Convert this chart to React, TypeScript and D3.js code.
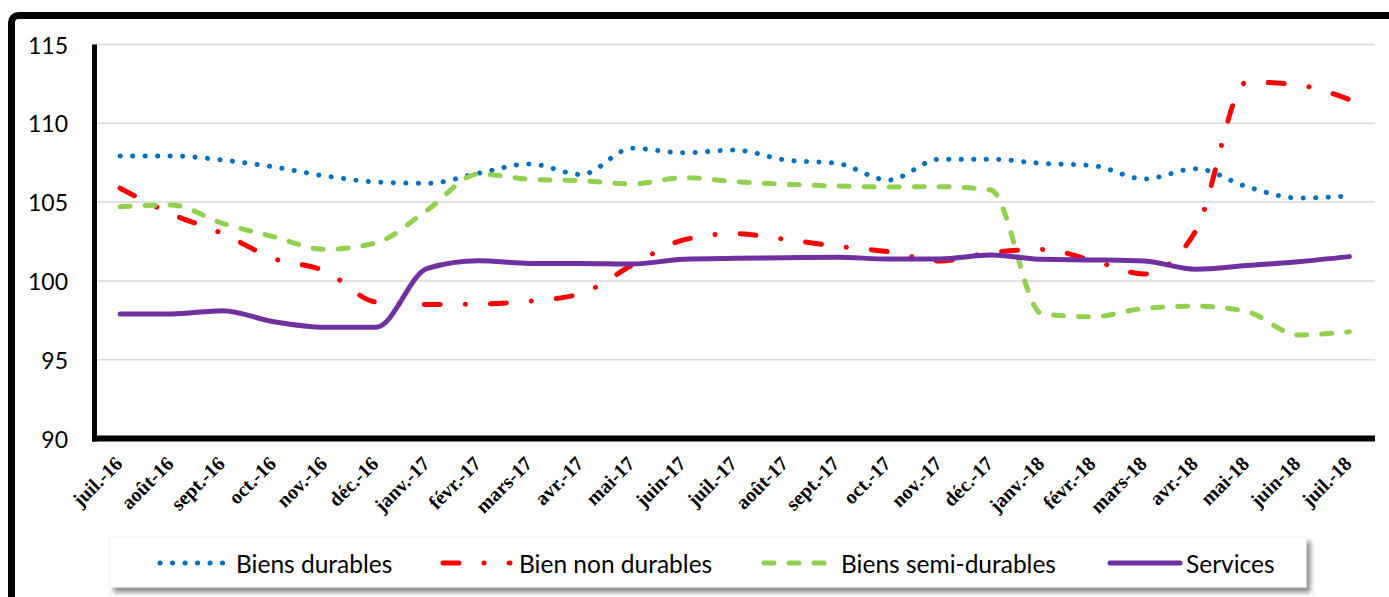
import React from "react";
import * as d3 from "d3";

const months = [
  "juil.-16", "août-16", "sept.-16", "oct.-16", "nov.-16", "déc.-16",
  "janv.-17", "févr.-17", "mars-17", "avr.-17", "mai-17", "juin-17",
  "juil.-17", "août-17", "sept.-17", "oct.-17", "nov.-17", "déc.-17",
  "janv.-18", "févr.-18", "mars-18", "avr.-18", "mai-18", "juin-18", "juil.-18",
];

const biensDurables = [
  107.93, 107.93, 107.67, 107.23, 106.66, 106.28, 106.19, 106.83, 107.42, 106.75,
  108.41, 108.13, 108.3, 107.67, 107.46, 106.4, 107.72, 107.72, 107.46, 107.31,
  106.47, 107.12, 105.98, 105.26, 105.39,
];

const bienNonDurables = [
  105.88, 104.25, 103.0, 101.42, 100.63, 98.66, 98.5, 98.53, 98.72, 99.2,
  101.0, 102.6, 103.0, 102.63, 102.2, 101.85, 101.26, 101.8, 102.0, 101.28,
  100.44, 103.17, 112.62, 112.43, 111.5,
];

const biensSemiDurables = [
  104.71, 104.82, 103.65, 102.8, 102.0, 102.42, 104.5, 106.78, 106.45, 106.36,
  106.15, 106.55, 106.3, 106.13, 106.02, 105.96, 105.98, 105.77, 97.9, 97.73,
  98.26, 98.4, 98.05, 96.57, 96.78,
];

const services = [
  97.9, 97.9, 98.11, 97.41, 97.06, 97.06, 100.8, 101.28, 101.11, 101.11,
  101.07, 101.37, 101.43, 101.47, 101.5, 101.39, 101.39, 101.64, 101.37, 101.33,
  101.26, 100.74, 100.97, 101.22, 101.54,
];

const yTicks = [90, 95, 100, 105, 110, 115];

const seriesNames = ["Biens durables", "Bien non durables", "Biens semi-durables", "Services"];

const W = 1389;
const H = 597;
const plot = { left: 94.5, right: 1375, top: 44.5, bottom: 438.5 };

const styles = [
  { color: "#0070C0", dash: "0.1 12.4", width: 5 },
  { color: "#FF0000", dash: "16 25 0.1 25", width: 5 },
  { color: "#92D050", dash: "10 15", width: 5 },
  { color: "#7030A0", dash: "none", width: 5 },
];

const legendLayout = [
  { lineX: 160, lineLen: 64, textX: 236 },
  { lineX: 443, lineLen: 67, textX: 519 },
  { lineX: 764, lineLen: 64, textX: 841 },
  { lineX: 1110, lineLen: 70, textX: 1186 },
];

export default function App() {
  const data = [biensDurables, bienNonDurables, biensSemiDurables, services];
  const x = d3.scaleBand<string>().domain(months).range([plot.left, plot.right]);
  const y = d3.scaleLinear().domain([90, 115]).range([plot.bottom, plot.top]);
  const cx = (m: string) => (x(m) as number) + x.bandwidth() / 2;
  const line = d3
    .line<number>()
    .x((_, i) => cx(months[i]))
    .y((v) => y(v))
    .curve(d3.curveMonotoneX);

  return (
    <svg
      width={W}
      height={H}
      style={{ position: "absolute", left: 0, top: 0, display: "block", background: "#fff" }}
    >
      <defs>
        <filter id="shadow" x="-5%" y="-30%" width="110%" height="180%">
          <feDropShadow dx="4" dy="5" stdDeviation="2.5" floodColor="#000" floodOpacity="0.45" />
        </filter>
      </defs>
      {/* outer frame */}
      <rect x={11.5} y={15.5} width={1420} height={640} rx={7} fill="none" stroke="#000" strokeWidth={7} />

      {/* grid */}
      {yTicks.map((t) => (
        <line key={t} x1={plot.left} x2={plot.right} y1={y(t)} y2={y(t)} stroke="#d9d9d9" strokeWidth={1.5} />
      ))}
      {yTicks.map((t) => (
        <text
          key={"l" + t}
          x={68}
          y={y(t)}
          textAnchor="end"
          dominantBaseline="central"
          fontFamily="Lato, 'Open Sans', sans-serif"
          fontSize={23}
          fill="#000"
        >
          {t}
        </text>
      ))}

      {/* series */}
      {data.map((s, k) => (
        <path
          key={k}
          d={line(s) || ""}
          fill="none"
          stroke={styles[k].color}
          strokeWidth={styles[k].width}
          strokeDasharray={styles[k].dash}
          strokeLinecap="round"
          strokeLinejoin="round"
        />
      ))}

      {/* axes */}
      <line x1={plot.left} x2={plot.left} y1={plot.top} y2={plot.bottom + 3} stroke="#000" strokeWidth={5} />
      <line x1={plot.left - 2.5} x2={plot.right} y1={plot.bottom} y2={plot.bottom} stroke="#000" strokeWidth={6} />

      {months.map((m) => (
        <text
          key={m}
          transform={`translate(${cx(m) - 1.5},460) rotate(-45)`}
          dy="0.35em"
          textAnchor="end"
          fontFamily="'Liberation Serif', 'Times New Roman', serif"
          fontWeight="bold"
          fontSize={20}
          fill="#000"
        >
          {m}
        </text>
      ))}

      {/* legend */}
      <rect x={110} y={537} width={1196} height={50} fill="#fff" stroke="#f0f0f0" strokeWidth={1} filter="url(#shadow)" />
      {seriesNames.map((n, k) => (
        <g key={n}>
          <line
            x1={legendLayout[k].lineX}
            x2={legendLayout[k].lineX + legendLayout[k].lineLen}
            y1={563}
            y2={563}
            stroke={styles[k].color}
            strokeWidth={styles[k].width}
            strokeDasharray={styles[k].dash}
            strokeLinecap="round"
          />
          <text
            x={legendLayout[k].textX}
            y={563}
            dominantBaseline="central"
            fontFamily="Lato, 'Open Sans', sans-serif"
            fontSize={24.5}
            fill="#000"
          >
            {n}
          </text>
        </g>
      ))}
    </svg>
  );
}
